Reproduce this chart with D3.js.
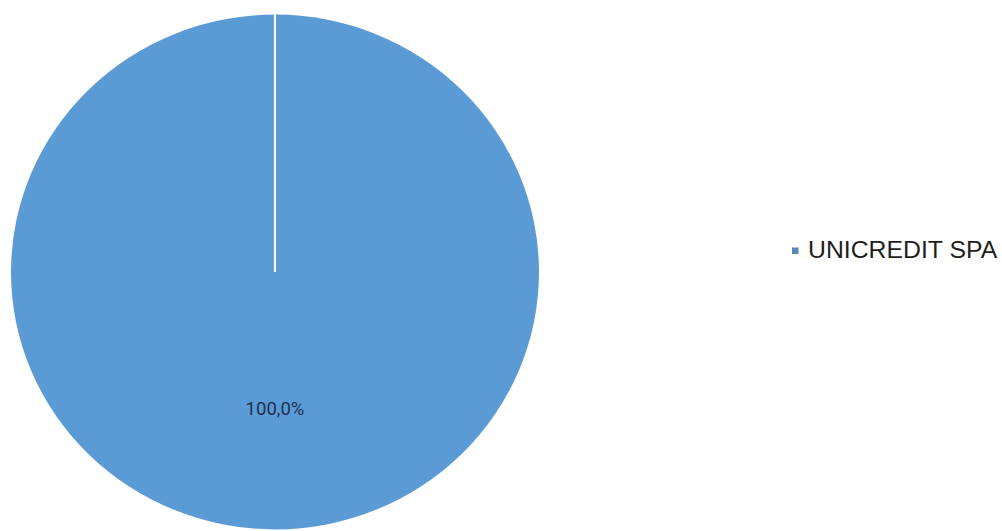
<!DOCTYPE html>
<html>
<head>
<meta charset="utf-8">
<script src="https://cdn.jsdelivr.net/npm/d3@7"></script>
<style>
  html, body { margin: 0; padding: 0; background: #ffffff; }
  svg { display: block; }
</style>
</head>
<body>
<svg id="chart" width="1002" height="531"></svg>
<script>
// ---- data ----
const categories = ["UNICREDIT SPA"];
const values = [100];
const labels = ["100,0%"];
const colors = ["#5b9bd5"];

const W = 1002, H = 531;
const svg = d3.select("#chart");

// ---- pie ----
const cx = 275, cy = 272, R = 264, yScale = 0.975;
const pie = d3.pie().sort(null).value(d => d.value);
const arcs = pie(categories.map((c, i) => ({ name: c, value: values[i], label: labels[i], color: colors[i] })));
const arc = d3.arc().innerRadius(0).outerRadius(R);
const labelArc = d3.arc().innerRadius(R * 0.53).outerRadius(R * 0.53);

const g = svg.append("g").attr("transform", `translate(${cx},${cy}) scale(1,${yScale})`);
g.selectAll("path.slice").data(arcs).enter().append("path")
  .attr("class", "slice")
  .attr("d", arc)
  .attr("fill", d => d.data.color);

// slice boundary (radial white line)
g.selectAll("line.edge").data(arcs).enter().append("line")
  .attr("class", "edge")
  .attr("x1", 0).attr("y1", 0)
  .attr("x2", d => d3.pointRadial(d.startAngle, R)[0])
  .attr("y2", d => d3.pointRadial(d.startAngle, R)[1])
  .attr("stroke", "#ffffff").attr("stroke-width", 2.2);

// slice labels
g.selectAll("text.lbl").data(arcs).enter().append("text")
  .attr("class", "lbl")
  .attr("transform", d => {
    const c = labelArc.centroid({ startAngle: Math.PI, endAngle: Math.PI });
    return `translate(${c[0]},${c[1]}) scale(1,${1 / yScale})`;
  })
  .attr("text-anchor", "middle")
  .attr("dy", "0.35em")
  .attr("font-family", "Roboto, 'Liberation Sans', sans-serif")
  .attr("font-size", 18.5)
  .attr("fill", "#1f3150")
  .text(d => d.data.label);

// ---- legend ----
const legend = svg.append("g").attr("transform", "translate(792,0)");
const items = legend.selectAll("g.item").data(arcs).enter().append("g").attr("class", "item");
items.append("rect")
  .attr("x", 0).attr("y", (d, i) => 247.5 + i * 30)
  .attr("width", 6.5).attr("height", 6.5)
  .attr("fill", "#5a86b8");
items.append("text")
  .attr("x", 16).attr("y", (d, i) => 257.5 + i * 30)
  .attr("font-family", "'Liberation Sans', Arial, sans-serif")
  .attr("font-size", 24.8)
  .attr("fill", "#1e1e1e")
  .text(d => d.data.name);
</script>
</body>
</html>
